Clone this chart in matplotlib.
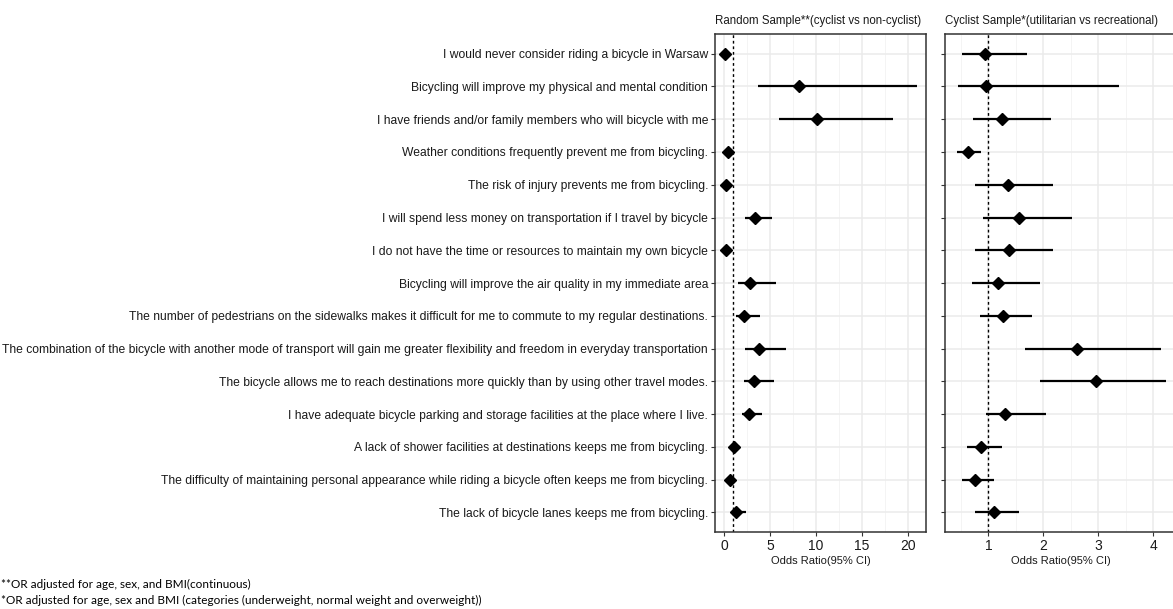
import numpy as np
import matplotlib
matplotlib.use('Agg')
import matplotlib.pyplot as plt

plt.rcParams['font.family'] = ['Liberation Sans Narrow', 'Liberation Sans', 'DejaVu Sans']

# Statements (top to bottom)
statements = [
    'I would never consider riding a bicycle in Warsaw',
    'Bicycling will improve my physical and mental condition',
    'I have friends and/or family members who will bicycle with me',
    'Weather conditions frequently prevent me from bicycling.',
    'The risk of injury prevents me from bicycling.',
    'I will spend less money on transportation if I travel by bicycle',
    'I do not have the time or resources to maintain my own bicycle',
    'Bicycling will improve the air quality in my immediate area',
    'The number of pedestrians on the sidewalks makes it difficult for me to commute to my regular destinations.',
    'The combination of the bicycle with another mode of transport will gain me greater flexibility and freedom in everyday transportation',
    'The bicycle allows me to reach destinations more quickly than by using other travel modes.',
    'I have adequate bicycle parking and storage facilities at the place where I live.',
    'A lack of shower facilities at destinations keeps me from bicycling.',
    'The difficulty of maintaining personal appearance while riding a bicycle often keeps me from bicycling.',
    'The lack of bicycle lanes keeps me from bicycling.',
]

# Random sample (cyclist vs non-cyclist)
rand_or = [0.1, 8.2, 10.1, 0.4, 0.15, 3.3, 0.15, 2.76, 2.14, 3.81, 3.27, 2.69, 1.09, 0.58, 1.23]
rand_lo = [0.05, 3.7, 6.0, 0.2, 0.05, 2.29, 0.05, 1.49, 1.27, 2.25, 2.14, 1.89, 0.8, 0.22, 0.9]
rand_hi = [0.2, 21.0, 18.4, 0.7, 0.3, 5.23, 0.3, 5.63, 3.85, 6.68, 5.37, 4.1, 1.67, 0.94, 2.32]

# Cyclist sample (utilitarian vs recreational)
cyc_or = [0.93, 0.95, 1.24, 0.62, 1.36, 1.55, 1.37, 1.17, 1.27, 2.61, 2.95, 1.30, 0.87, 0.75, 1.10]
cyc_lo = [0.52, 0.44, 0.72, 0.42, 0.76, 0.91, 0.76, 0.71, 0.84, 1.66, 1.93, 0.95, 0.61, 0.52, 0.76]
cyc_hi = [1.70, 3.38, 2.13, 0.87, 2.17, 2.52, 2.18, 1.93, 1.80, 4.13, 4.22, 2.04, 1.25, 1.10, 1.55]

fig = plt.figure(figsize=(11.73, 6.09), dpi=100)
ax1 = fig.add_axes([0.6096, 0.1264, 0.1799, 0.8177])
ax2 = fig.add_axes([0.8056, 0.1264, 0.197, 0.8177])

y = np.arange(1, len(statements) + 1)

def style(ax, xlim, majors, minors, title):
    ax.set_xlim(*xlim)
    ax.set_ylim(15.6, 0.4)
    ax.set_xticks(majors)
    ax.set_xticks(minors, minor=True)
    ax.set_yticks(y)
    ax.grid(True, which='major', color='#EBEBEB', linewidth=1.1, zorder=0)
    ax.grid(True, which='minor', axis='x', color='#F2F2F2', linewidth=0.6, zorder=0)
    ax.set_axisbelow(True)
    for s in ax.spines.values():
        s.set_color('#333333')
        s.set_linewidth(1.1)
    ax.tick_params(which='major', length=3, color='#333333', labelsize=8.7, labelcolor='#1a1a1a', pad=2)
    ax.tick_params(which='minor', length=0)
    ax.tick_params(axis='x', labelsize=10)
    ax.set_xlabel('Odds Ratio(95% CI)', fontsize=8, color='#1a1a1a', labelpad=2)
    ax.set_title(title, fontsize=8.3, loc='left', color='#1a1a1a', pad=7)

def draw(ax, orv, lo, hi):
    ax.hlines(y, lo, hi, color='black', linewidth=1.6, zorder=3)
    ax.plot(orv, y, 'D', color='black', markersize=6, zorder=4)
    ax.axvline(1, color='black', linestyle=(0, (2, 2)), linewidth=1, zorder=2)

style(ax1, (-1.0, 22.0), [0, 5, 10, 15, 20], [2.5, 7.5, 12.5, 17.5],
      'Random Sample**(cyclist vs non-cyclist)')
draw(ax1, rand_or, rand_lo, rand_hi)
ax1.set_yticklabels(statements)

style(ax2, (0.21, 4.41), [1, 2, 3, 4], [0.5, 1.5, 2.5, 3.5],
      'Cyclist Sample*(utilitarian vs recreational)')
draw(ax2, cyc_or, cyc_lo, cyc_hi)
ax2.set_yticklabels([])

fig.text(0.001, 0.041, '**OR adjusted for age, sex, and BMI(continuous)',
         fontsize=8.5, family=['Lato', 'DejaVu Sans'], va='center', ha='left')
fig.text(0.001, 0.014, '*OR adjusted for age, sex and BMI (categories (underweight, normal weight and overweight))',
         fontsize=8.5, family=['Lato', 'DejaVu Sans'], va='center', ha='left')

fig.savefig('out.png', dpi=100)
